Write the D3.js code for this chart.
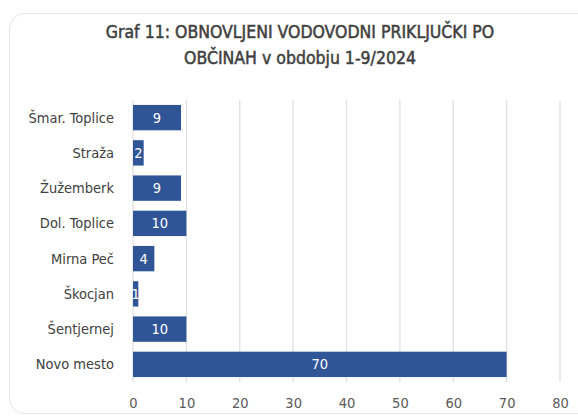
<!DOCTYPE html>
<html>
<head>
  <meta charset="utf-8">
  <title>Graf 11</title>
  <script src="https://d3js.org/d3.v7.min.js"></script>
  <style>
    body { margin: 0; background: #fff; font-family: "DejaVu Sans Condensed", "Roboto", sans-serif; }
    .title { fill: #3f3f3f; font-size: 17.5px; stroke: #3f3f3f; stroke-width: 0.5px; }
    .cat { fill: #404040; font-size: 14.5px; }
    .tick text { fill: #595959; font-size: 14.5px; font-family: "DejaVu Sans Condensed", sans-serif; }
    .val { fill: #fff; font-size: 14.5px; }
  </style>
</head>
<body>
  <div id="chart"></div>
  <script>
    // podatki
    const obcine = ["Šmar. Toplice", "Straža", "Žužemberk", "Dol. Toplice", "Mirna Peč", "Škocjan", "Šentjernej", "Novo mesto"];
    const prikljucki = [9, 2, 9, 10, 4, 1, 10, 70];
    const xTicks = [0, 10, 20, 30, 40, 50, 60, 70, 80];
    const naslov = ["Graf 11: OBNOVLJENI VODOVODNI PRIKLJUČKI PO", "OBČINAH v obdobju 1-9/2024"];

    const width = 578, height = 416;
    const svg = d3.select("#chart").append("svg")
      .attr("width", width).attr("height", height);

    // okvir
    svg.append("rect")
      .attr("x", 9.5).attr("y", 13.5)
      .attr("width", 600).attr("height", 400)
      .attr("rx", 15)
      .attr("fill", "#fff").attr("stroke", "#e3e3e3");

    svg.selectAll(".title").data(naslov).enter().append("text")
      .attr("class", "title")
      .attr("x", 300).attr("y", (d, i) => 38 + i * 26)
      .attr("text-anchor", "middle")
      .text(d => d);

    const x = d3.scaleLinear().domain([0, 80]).range([133, 560]);
    const y = d3.scaleBand().domain(obcine).range([100, 382]).paddingInner(0.28).paddingOuter(0.14);

    // mreža
    svg.append("g").selectAll("line").data(xTicks).enter().append("line")
      .attr("x1", d => x(d)).attr("x2", d => x(d))
      .attr("y1", 100).attr("y2", 382)
      .attr("stroke", "#e0e0e0").attr("stroke-width", 1.3);

    const xAxis = svg.append("g")
      .attr("transform", "translate(0,389)")
      .call(d3.axisBottom(x).tickValues(xTicks).tickSize(0).tickPadding(9));
    xAxis.select(".domain").remove();

    svg.selectAll(".cat").data(obcine).enter().append("text")
      .attr("class", "cat")
      .attr("x", 114)
      .attr("y", d => y(d) + y.bandwidth() / 2)
      .attr("dy", "0.35em")
      .attr("text-anchor", "end")
      .text(d => d);

    svg.selectAll(".bar").data(prikljucki).enter().append("rect")
      .attr("class", "bar")
      .attr("x", x(0))
      .attr("y", (d, i) => y(obcine[i]))
      .attr("width", d => x(d) - x(0))
      .attr("height", y.bandwidth())
      .attr("fill", "#2f5597");

    svg.selectAll(".val").data(prikljucki).enter().append("text")
      .attr("class", "val")
      .attr("x", d => (x(0) + x(d)) / 2)
      .attr("y", (d, i) => y(obcine[i]) + y.bandwidth() / 2)
      .attr("dy", "0.35em")
      .attr("text-anchor", "middle")
      .text(d => d);
  </script>
</body>
</html>
